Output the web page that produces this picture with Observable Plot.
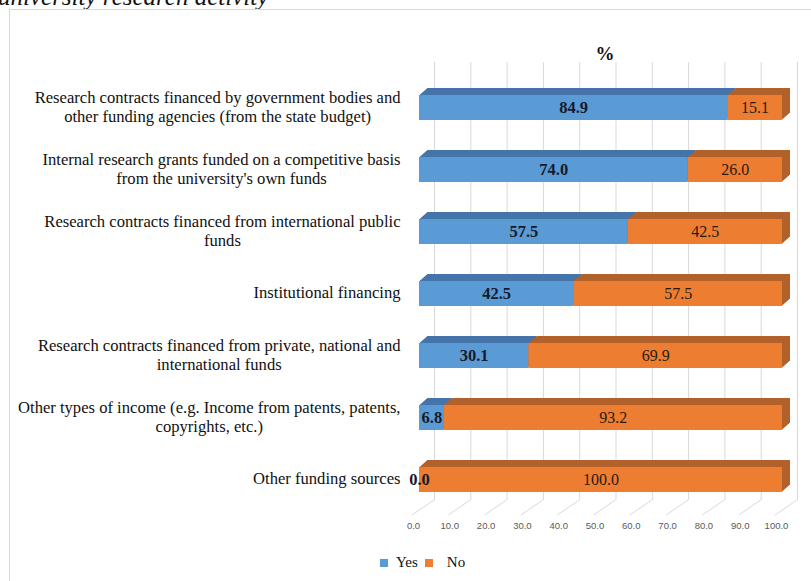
<!DOCTYPE html>
<html><head><meta charset="utf-8">
<script src="https://cdn.jsdelivr.net/npm/d3@7"></script>
<script src="https://cdn.jsdelivr.net/npm/@observablehq/plot@0.6"></script>
<style>
body{margin:0;background:#fff;width:811px;height:581px;overflow:hidden;position:relative;font-family:"Liberation Serif",serif}
#caption{position:absolute;left:-2px;top:-16px;font-style:italic;font-size:25px;line-height:1;white-space:nowrap;color:#111}
#border{position:absolute;left:9px;top:9px;width:900px;height:700px;border:1px solid #d9d9d9;background:#fff}
#chart{position:absolute;left:0;top:0}
#legend{position:absolute;top:554px;left:380px;font-size:15px;display:flex;align-items:center;color:#111}
.sw{width:8px;height:8px;display:inline-block}
</style></head><body>
<div id="caption">university research activity</div>
<div id="border"></div>
<div id="chart"></div>
<div id="legend"><span class="sw" style="background:#5b9bd5;margin-right:8px"></span><span>Yes</span><span class="sw" style="background:#ed7d31;margin-left:7px;margin-right:14px"></span><span>No</span></div>
<script>
const categories = [
  "Research contracts financed by government bodies and\nother funding agencies (from the state budget)",
  "Internal research grants funded on a competitive basis\nfrom the university's own funds",
  "Research contracts financed from international public\nfunds",
  "Institutional financing",
  "Research contracts financed from private, national and\ninternational funds",
  "Other types of income (e.g. Income from patents, patents,\ncopyrights, etc.)",
  "Other funding sources"
];
const yesValues = [84.9, 74.0, 57.5, 42.5, 30.1, 6.8, 0.0];
const noValues = [15.1, 26.0, 42.5, 57.5, 69.9, 93.2, 100.0];
const xTicks = [0, 10, 20, 30, 40, 50, 60, 70, 80, 90, 100];
const chartTitle = "%";

const rows = categories.map((c, i) => ({cat: c, yes: yesValues[i], no: noValues[i]}));

const blue = "#5b9bd5", blueDark = "#4474aa", orange = "#ed7d31", orangeDark = "#b3612b";
const labelFont = 16.6;
const serif = "Liberation Serif";

// extrusion (3D depth) copies
const depth = 8;
const extrBlue = [], extrOrange = [];
for (let k = 1; k <= depth; k++) {
  extrBlue.push(Plot.barX(rows, {x1: 0, x2: "yes", y: "cat", fill: blueDark, dx: k, dy: -k * 7 / 8}));
  extrOrange.push(Plot.barX(rows, {x1: "yes", x2: d => d.yes + d.no, y: "cat", fill: orangeDark, dx: k, dy: -k * 7 / 8}));
}

// category labels: wrapped lines centred within a block whose right edge is fixed
const ctx = document.createElement("canvas").getContext("2d");
ctx.font = `${labelFont}px "${serif}"`;
const labelMarks = categories.map(c => {
  const w = Math.max(...c.split("\n").map(s => ctx.measureText(s).width));
  return Plot.text([c], {
    y: d => d, text: d => d, frameAnchor: "left", textAnchor: "middle",
    dx: (400 - w / 2) - 419, dy: -2, lineHeight: 1.14,
    fontFamily: serif, fontSize: labelFont, fill: "#111"
  });
});

function floorLines(index, scales) {
  const g = d3.create("svg:g").attr("stroke", "#d9d9d9").attr("stroke-width", 1);
  for (const t of xTicks) {
    const px = scales.x(t);
    g.append("line").attr("x1", px - 7).attr("y1", 515).attr("x2", px + 15).attr("y2", 500);
  }
  return g.node();
}

const chart = Plot.plot({
  width: 811,
  height: 545,
  marginLeft: 419,
  marginRight: 29,
  marginTop: 62,
  marginBottom: 45,
  style: {background: "transparent"},
  x: {domain: [0, 100], axis: null},
  y: {domain: categories, range: [57.4, 528.6], padding: 0.6, axis: null},
  marks: [
    Plot.ruleX(xTicks, {dx: 15, stroke: "#d9d9d9"}),
    floorLines,
    Plot.axisX({ticks: xTicks, tickFormat: d => d.toFixed(1), tickSize: 0, tickPadding: 22, dx: -6,
      fontFamily: "Liberation Sans", fontSize: 9.5, fill: "#595959", label: null}),
    ...extrBlue,
    ...extrOrange,
    Plot.barX(rows, {x1: 0, x2: "yes", y: "cat", fill: blue}),
    Plot.barX(rows, {x1: "yes", x2: d => d.yes + d.no, y: "cat", fill: orange}),
    Plot.text(rows, {x: d => d.yes / 2, y: "cat", text: d => d.yes.toFixed(1), fontWeight: "bold",
      fontFamily: serif, fontSize: 16.5, fill: "#151a2c"}),
    Plot.text(rows, {x: d => d.yes + d.no / 2, y: "cat", text: d => d.no.toFixed(1),
      fontFamily: serif, fontSize: 16, fill: "#2a1a12"}),
    ...labelMarks,
    Plot.text([chartTitle], {text: d => d, frameAnchor: "top", dy: -16, dx: 4, fontWeight: "bold",
      fontFamily: serif, fontSize: 19, fill: "#111"})
  ]
});
document.getElementById("chart").append(chart);
</script>
</body></html>
